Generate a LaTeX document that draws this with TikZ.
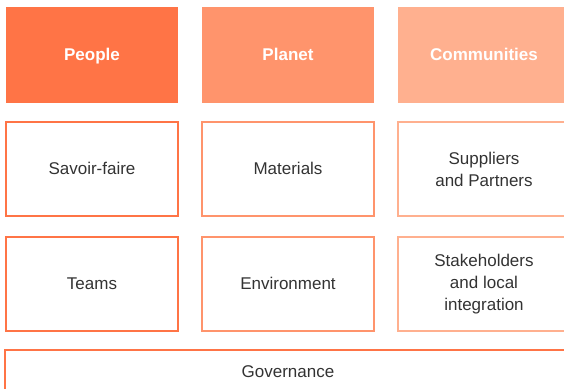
\documentclass[tikz,border=0pt]{standalone}
\usepackage{fontspec}
\setmainfont{Liberation Sans}
\usepackage{xcolor}
\usepackage{tikz}
\usetikzlibrary{positioning}
\definecolor{peoplec}{RGB}{255,116,70}
\definecolor{planetc}{RGB}{255,148,108}
\definecolor{commc}{RGB}{255,176,143}
\definecolor{txtc}{RGB}{51,51,51}
\tikzset{head/.style={rectangle,minimum width=172bp,minimum height=96bp,inner sep=0pt,text height=12bp,text depth=1bp,text=white,font=\fontsize{17bp}{22bp}\selectfont\bfseries},
  cell/.style={rectangle,draw,line width=2bp,minimum width=172bp,minimum height=94bp,inner sep=0pt,align=center,text=txtc,font=\fontsize{17bp}{22bp}\selectfont},
  onel/.style={text height=12bp,text depth=0.5bp}}

\begin{document}
\begin{tikzpicture}[x=1bp,y=-1bp]
    \useasboundingbox (0,0) rectangle (564,388);
    \node[head,fill=peoplec] (people)at (92,55) {People};
    \node[head,fill=planetc] (planet)at (288,55) {Planet};
    \node[head,fill=commc] (comm)at (484,55) {Communities};

    \node[cell,onel,draw=peoplec] (savoir)at (92,169) {Savoir-faire};
    \node[cell,onel,draw=planetc] (mat)at (288,169) {Materials};
    \node[cell,draw=commc] (supp)at (484,169) {Suppliers\\and Partners};

    \node[cell,onel,draw=peoplec] (teams)at (92,284) {Teams};
    \node[cell,onel,draw=planetc] (env)at (288,284) {Environment};
    \node[cell,draw=commc] (stake)at (484,284) {Stakeholders\\and local\\integration};

    \node[cell,onel,draw=peoplec,minimum width=566bp,minimum height=44bp] (gov)at (288,372) {Governance};
\end{tikzpicture}
\end{document}
